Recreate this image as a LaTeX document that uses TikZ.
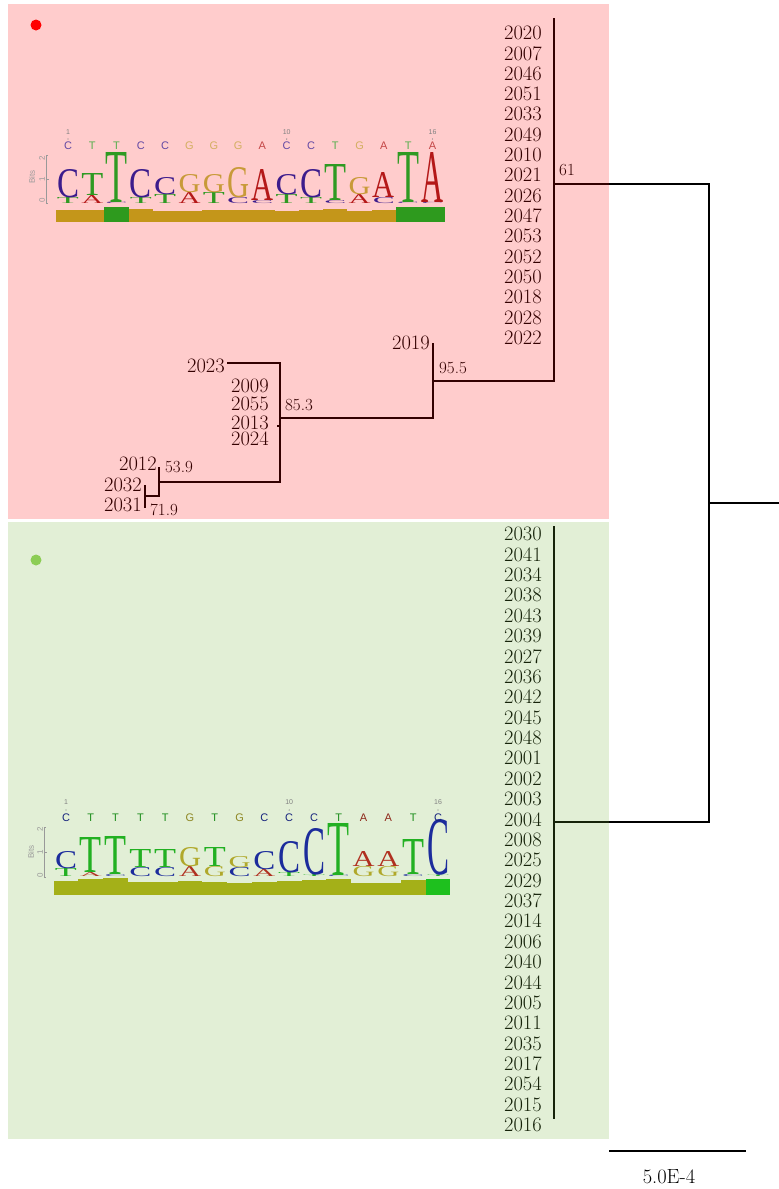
\documentclass[tikz,border=0pt]{standalone}
\usepackage{fontspec}
\usepackage{graphicx}
\newfontfamily\logofont{Liberation Serif}
\newfontfamily\axfont{Liberation Sans}
\usetikzlibrary{positioning,calc}

% logo colours, upper clade
\definecolor{lgC}{HTML}{3C1C8C}
\definecolor{lgT}{HTML}{2E9A22}
\definecolor{lgG}{HTML}{C89A38}
\definecolor{lgA}{HTML}{B41818}
\definecolor{lgbar}{HTML}{C4961A}
\definecolor{lgbarT}{HTML}{2E9A1E}
% logo colours, lower clade
\definecolor{mgC}{HTML}{1C2C9C}
\definecolor{mgT}{HTML}{22B022}
\definecolor{mgG}{HTML}{B0A82A}
\definecolor{mgA}{HTML}{B03020}
\definecolor{mgbar}{HTML}{A4B018}
\definecolor{mgbarC}{HTML}{1EC01E}
% clade shading
\definecolor{cladeG}{RGB}{110,175,50}
\definecolor{dotG}{RGB}{140,205,85}

\begin{document}
\begin{tikzpicture}[
  x=1pt, y=-1pt,
  font=\fontsize{20.5}{21}\selectfont,
  tip/.style   = {anchor=east, inner sep=0pt},
  supp/.style  = {font=\fontsize{17}{18}\selectfont, inner sep=0pt},
  br/.style    = {line width=2pt},
  lg/.style    = {anchor=south, inner sep=0pt, font=\logofont},
  cons/.style  = {inner sep=0pt, font=\axfont\fontsize{11}{12}\selectfont},
  posn/.style  = {inner sep=0pt, text=black!50, font=\axfont\fontsize{7}{8}\selectfont},
  axl/.style   = {inner sep=0pt, text=black!40, rotate=90, font=\axfont\fontsize{8}{9}\selectfont},
  axis/.style  = {black!40, line width=0.6pt},
  dot/.style   = {circle, inner sep=0pt, minimum size=11pt},
]
\useasboundingbox (0,0) rectangle (779,1189);

% ----------------------------- tree ---------------------------------------
\coordinate (root)    at (709,503);
\coordinate (rootend) at (779,503);
\coordinate (n61)     at (554,184);
\coordinate (n61top)  at (554,18);
\coordinate (n61bot)  at (554,381);
\coordinate (n955)    at (433,381);
\coordinate (t2019)   at (433,343);
\coordinate (n853)    at (280,418);
\coordinate (t2023)   at (227,363);
\coordinate (t2013)   at (277,426);
\coordinate (n539)    at (159,482);
\coordinate (t2012)   at (159,467);
\coordinate (n719)    at (145,496);
\coordinate (t2032)   at (145,485);
\coordinate (t2031)   at (145,508);
\coordinate (nG)      at (554,822);
\coordinate (nGtop)   at (554,526);
\coordinate (nGbot)   at (554,1119);

\draw[br] (rootend) -- (root);
\draw[br] (n61) -| (root) |- (nG);
\draw[br] (n61top) -- (n61bot) -- (n955);
\draw[br] (t2019) -- (n955) |- (n853);
\draw[br] (t2023) -| (n853) |- (n539);
\draw[br] (t2013) -- ++(3,0);
\draw[br] (t2012) -- (n539) |- (n719);
\draw[br] (t2032) -- (t2031);
\draw[br] (nGtop) -- (nGbot);

% support values
\node[supp] (s61)  at (567,170) {61};
\node[supp] (s955) at (453,368) {95.5};
\node[supp] (s853) at (299,405) {85.3};
\node[supp] (s539) at (179,467) {53.9};
\node[supp] (s719) at (164,510) {71.9};

% ----------------------------- tip labels ---------------------------------
\foreach \t [count=\i] in {2020,2007,2046,2051,2033,2049,2010,2021,2026,2047,
    2053,2052,2050,2018,2028,2022}
  \node[tip] (p\t) at (542,{33+(\i-1)*20.33}) {\t};
\foreach \t [count=\i] in {2030,2041,2034,2038,2043,2039,2027,2036,2042,2045,
    2048,2001,2002,2003,2004,2008,2025,2029,2037,2014,2006,2040,2044,2005,
    2011,2035,2017,2054,2015,2016}
  \node[tip] (g\t) at (542,{534+(\i-1)*20.38}) {\t};
\node[tip] (p2019) at (430,343) {2019};
\node[tip] (p2023) at (225,366) {2023};
\node[tip] (p2009) at (269,386) {2009};
\node[tip] (p2055) at (269,404) {2055};
\node[tip] (p2013) at (269,423) {2013};
\node[tip] (p2024) at (269,439) {2024};
\node[tip] (p2012) at (157,464) {2012};
\node[tip] (p2032) at (142,485) {2032};
\node[tip] (p2031) at (142,505) {2031};

% ----------------------------- scale bar ----------------------------------
\coordinate (sbl) at (609,1151);
\coordinate (sbr) at (746,1151);
\draw[br] (sbl) -- (sbr);
\node (sblab) at (669,1177) {5.0E-4};

% ----------------------------- clade shading ------------------------------
\fill[red, fill opacity=0.2] (8,4) rectangle (609,519);
\fill[cladeG, fill opacity=0.2] (8,522) rectangle (609,1139);
\node[dot, fill=red] (redmark) at (36,25) {};
\node[dot, fill=dotG] (greenmark) at (36,560) {};

% ----------------------------- logo, upper clade --------------------------
\foreach \bg/\hb/\sm/\hs [count=\i] in {C/28/T/6, T/22/A/8, T/50/C/1.5, C/28/T/6,
    C/17/T/9, G/18/A/11, G/18/T/11, G/30/C/6, A/31/C/3, C/20/T/9, C/28/T/6,
    T/36/C/3, G/17/A/9, A/25/C/6, T/50/C/1.5, A/50/C/1.5} {
  \pgfmathsetmacro\xx{68+(\i-1)*24.3}
  \pgfmathsetmacro\yb{204-\hs}
  \node[lg, text=lg\sm] (ua\i) at (\xx,204) {\resizebox{22pt}{\hs pt}{\sm}};
  \node[lg, text=lg\bg] (ub\i) at (\xx,\yb) {\resizebox{22pt}{\hb pt}{\bg}};
  \node[cons, text=lg\bg!80!white] (uc\i) at (\xx,146) {\bg};
}
\foreach \i/\col/\top in {1/lgbar/210, 2/lgbar/210, 3/lgbarT/207, 4/lgbar/209,
    5/lgbar/211, 6/lgbar/211, 7/lgbar/210, 8/lgbar/210, 9/lgbar/210,
    10/lgbar/211, 11/lgbar/210, 12/lgbar/209, 13/lgbar/211, 14/lgbar/210,
    15/lgbarT/207, 16/lgbarT/207}
  \fill[\col] ({68+(\i-1)*24.3-12.15},\top) rectangle ({68+(\i-1)*24.3+12.15},222);
\foreach \n in {1,10,16} {
  \node[posn] (un\n) at ({68+(\n-1)*24.3},132) {\n};
  \fill[black!50] ({68+(\n-1)*24.3},139) circle (0.7);
}
\draw[axis] (48,155) -- (46,155) -- (46,203) -- (48,203);
\draw[axis] (46,179) -- (49,179);
\node[axl] (u2) at (42,158) {2};
\node[axl] (u1) at (42,179) {1};
\node[axl] (u0) at (42,200) {0};
\node[axl] (ubits) at (32,177) {Bits};

% ----------------------------- logo, lower clade --------------------------
\foreach \bg/\hb/\sm/\hs [count=\i] in {C/17/T/8, T/35/A/4, T/38/C/2, T/18/C/9,
    T/18/C/9, G/19/A/10, T/19/G/10, G/11/C/9, C/18/A/7, C/31/T/4, C/46/T/2,
    T/52/C/1.5, A/15/G/10, A/15/G/10, T/35/C/2, C/55/T/1.5} {
  \pgfmathsetmacro\xx{66+(\i-1)*24.8}
  \pgfmathsetmacro\yb{877-\hs}
  \node[lg, text=mg\sm] (la\i) at (\xx,877) {\resizebox{22pt}{\hs pt}{\sm}};
  \node[lg, text=mg\bg] (lb\i) at (\xx,\yb) {\resizebox{22pt}{\hb pt}{\bg}};
  \node[cons, text=mg\bg!80!black] (lc\i) at (\xx,818) {\bg};
}
\foreach \i/\col/\top in {1/mgbar/881, 2/mgbar/879, 3/mgbar/878, 4/mgbar/882,
    5/mgbar/882, 6/mgbar/881, 7/mgbar/882, 8/mgbar/883, 9/mgbar/882,
    10/mgbar/881, 11/mgbar/880, 12/mgbar/879, 13/mgbar/883, 14/mgbar/883,
    15/mgbar/880, 16/mgbarC/879}
  \fill[\col] ({66+(\i-1)*24.8-12.4},\top) rectangle ({66+(\i-1)*24.8+12.4},895);
\foreach \n in {1,10,16} {
  \node[posn] (ln\n) at ({66+(\n-1)*24.8},802) {\n};
  \fill[black!50] ({66+(\n-1)*24.8},810) circle (0.7);
}
\draw[axis] (46,827) -- (44,827) -- (44,877) -- (46,877);
\draw[axis] (44,852) -- (47,852);
\node[axl] (l2) at (40,829) {2};
\node[axl] (l1) at (40,852) {1};
\node[axl] (l0) at (40,875) {0};
\node[axl] (lbits) at (31,852) {Bits};

\end{tikzpicture}
\end{document}
